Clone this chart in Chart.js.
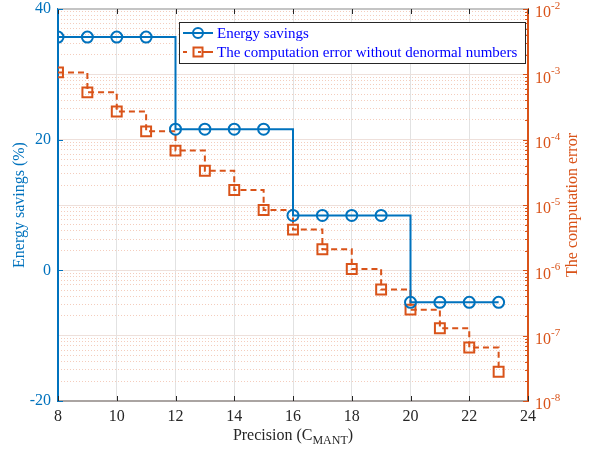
<!DOCTYPE html>
<html>
<head>
<meta charset="utf-8">
<script src="https://cdn.jsdelivr.net/npm/chart.js@4"></script>
<style>
  body { margin: 0; background: #fff; }
</style>
</head>
<body>
<canvas id="precisionChart" width="604" height="454"></canvas>
<script>
// precision values (C_MANT)
var precision = [8, 9, 10, 11, 12, 13, 14, 15, 16, 17, 18, 19, 20, 21, 22, 23];
// energy savings in %
var energySavings = [35.7, 35.7, 35.7, 35.7, 21.6, 21.6, 21.6, 21.6, 8.4, 8.4, 8.4, 8.4, -4.9, -4.9, -4.9, -4.9];
// computation error without denormal numbers
var computationError = [1.07e-3, 5.3e-4, 2.7e-4, 1.34e-4, 6.8e-5, 3.35e-5, 1.7e-5, 8.4e-6,
    4.2e-6, 2.1e-6, 1.05e-6, 5.1e-7, 2.5e-7, 1.3e-7, 6.6e-8, 2.8e-8];

var xTicks = [8, 10, 12, 14, 16, 18, 20, 22, 24];
var leftTicks = [-20, 0, 20, 40];
var rightExponents = [-8, -7, -6, -5, -4, -3, -2];

var seriesLabels = ['Energy savings', 'The computation error without denormal numbers'];

var BLUE = '#0072BD';
var ORANGE = '#D95319';
var SERIF = '"Liberation Serif", "Times New Roman", serif';

function logTicks() {
    var ticks = [];
    for (var i = 0; i < rightExponents.length; i++) {
        var e = rightExponents[i];
        ticks.push({ value: Math.pow(10, e), major: true });
        if (i < rightExponents.length - 1) {
            for (var m = 2; m <= 9; m++) {
                ticks.push({ value: m * Math.pow(10, e), major: false });
            }
        }
    }
    return ticks;
}

// tick marks pointing inwards, box top line, custom titles and legend
var decorPlugin = {
    id: 'decor',
    afterDraw: function (chart) {
        var c = chart.ctx;
        var a = chart.chartArea;
        var sx = chart.scales.x, sy = chart.scales.y, sy1 = chart.scales.y1;
        c.save();

        // top line of the box
        c.strokeStyle = '#c4c4c4';
        c.lineWidth = 2;
        c.beginPath();
        c.moveTo(a.left, a.top);
        c.lineTo(a.right, a.top);
        c.stroke();

        // x ticks (bottom and top)
        c.strokeStyle = '#262626';
        c.lineWidth = 1;
        xTicks.forEach(function (v) {
            var px = Math.round(sx.getPixelForValue(v)) + 0.5;
            c.beginPath();
            c.moveTo(px, a.bottom); c.lineTo(px, a.bottom - 5);
            c.moveTo(px, a.top); c.lineTo(px, a.top + 5);
            c.stroke();
        });

        // left ticks
        c.strokeStyle = BLUE;
        leftTicks.forEach(function (v) {
            var py = Math.round(sy.getPixelForValue(v)) + 0.5;
            c.beginPath();
            c.moveTo(a.left, py); c.lineTo(a.left + 5, py);
            c.stroke();
        });

        // right ticks, major and minor
        c.strokeStyle = ORANGE;
        logTicks().forEach(function (t) {
            var py = Math.round(sy1.getPixelForValue(t.value)) + 0.5;
            var len = t.major ? 5 : 3;
            c.beginPath();
            c.moveTo(a.right, py); c.lineTo(a.right - len, py);
            c.stroke();
        });

        // right tick labels 10^n
        c.fillStyle = ORANGE;
        c.textBaseline = 'middle';
        c.textAlign = 'left';
        rightExponents.forEach(function (e) {
            var py = sy1.getPixelForValue(Math.pow(10, e));
            c.font = '16px ' + SERIF;
            c.fillText('10', a.right + 7, py + 4);
            var w = c.measureText('10').width;
            c.font = '11px ' + SERIF;
            c.fillText(String(e), a.right + 7 + w, py - 3);
        });

        // left axis title
        c.font = '16px ' + SERIF;
        c.textAlign = 'center';
        c.fillStyle = BLUE;
        c.save();
        c.translate(20, (a.top + a.bottom) / 2);
        c.rotate(-Math.PI / 2);
        c.fillText('Energy savings (%)', 0, 0);
        c.restore();

        // right axis title
        c.fillStyle = ORANGE;
        c.save();
        c.translate(573, (a.top + a.bottom) / 2);
        c.rotate(-Math.PI / 2);
        c.fillText('The computation error', 0, 0);
        c.restore();

        // x axis title with subscript
        c.fillStyle = '#262626';
        c.textAlign = 'left';
        c.font = '16px ' + SERIF;
        var p1 = 'Precision (C', p3 = ')';
        var w1 = c.measureText(p1).width, w3 = c.measureText(p3).width;
        c.font = '12px ' + SERIF;
        var w2 = c.measureText('MANT').width;
        var x0 = (a.left + a.right) / 2 - (w1 + w2 + w3) / 2;
        var ty = 436;
        c.font = '16px ' + SERIF;
        c.fillText(p1, x0, ty);
        c.font = '12px ' + SERIF;
        c.fillText('MANT', x0 + w1, ty + 5);
        c.font = '16px ' + SERIF;
        c.fillText(p3, x0 + w1 + w2, ty);

        // legend
        var lx = 179, ly = 22, lw = 346, lh = 41;
        c.fillStyle = '#ffffff';
        c.fillRect(lx, ly, lw, lh);
        c.strokeStyle = '#262626';
        c.lineWidth = 1;
        c.strokeRect(lx + 0.5, ly + 0.5, lw, lh);

        var rows = [ly + 11, ly + 30];
        // row 1: blue line with circle
        c.strokeStyle = BLUE;
        c.lineWidth = 2;
        c.beginPath();
        c.moveTo(lx + 4, rows[0]); c.lineTo(lx + 34, rows[0]);
        c.stroke();
        c.beginPath();
        c.arc(lx + 19, rows[0], 5, 0, Math.PI * 2);
        c.stroke();
        // row 2: orange dashed line with square
        c.strokeStyle = ORANGE;
        c.beginPath();
        c.moveTo(lx + 4, rows[1]); c.lineTo(lx + 8, rows[1]);
        c.moveTo(lx + 24, rows[1]); c.lineTo(lx + 34, rows[1]);
        c.stroke();
        c.strokeRect(lx + 14.5, rows[1] - 4.5, 9, 9);
        c.beginPath();
        c.moveTo(lx + 19, rows[1]); c.lineTo(lx + 22, rows[1]);
        c.stroke();

        c.fillStyle = '#0000ff';
        c.font = '15px ' + SERIF;
        c.textBaseline = 'middle';
        c.fillText(seriesLabels[0], lx + 38, rows[0] + 1);
        c.fillText(seriesLabels[1], lx + 38, rows[1] + 1);

        c.restore();
    }
};

var ctx = document.getElementById('precisionChart').getContext('2d');

var precisionChart = new Chart(ctx, {
    type: 'line',
    data: {
        datasets: [
            {
                label: seriesLabels[0],
                data: precision.map(function (p, i) { return { x: p, y: energySavings[i] }; }),
                yAxisID: 'y',
                stepped: true,
                borderColor: BLUE,
                borderWidth: 2,
                pointStyle: 'circle',
                pointRadius: 5.5,
                pointBorderWidth: 2,
                pointBorderColor: BLUE,
                pointBackgroundColor: 'rgba(0,0,0,0)',
                fill: false
            },
            {
                label: seriesLabels[1],
                data: precision.map(function (p, i) { return { x: p, y: computationError[i] }; }),
                yAxisID: 'y1',
                stepped: true,
                borderColor: ORANGE,
                borderWidth: 2,
                borderDash: [6, 4],
                pointStyle: 'rect',
                pointRadius: 7,
                pointBorderWidth: 2,
                pointBorderColor: ORANGE,
                pointBackgroundColor: 'rgba(0,0,0,0)',
                fill: false
            }
        ]
    },
    options: {
        responsive: false,
        animation: false,
        layout: { padding: { top: 9, left: 0, right: 0, bottom: 0 } },
        plugins: {
            legend: { display: false },
            tooltip: { enabled: false }
        },
        scales: {
            x: {
                type: 'linear',
                min: 8,
                max: 24,
                afterBuildTicks: function (scale) {
                    scale.ticks = xTicks.map(function (v) { return { value: v }; });
                },
                afterFit: function (scale) {
                    scale.height = 53;
                    scale.paddingLeft = 0;
                    scale.paddingRight = 0;
                },
                ticks: {
                    color: '#262626',
                    padding: 6,
                    maxRotation: 0,
                    autoSkip: false,
                    font: { family: SERIF, size: 16 }
                },
                grid: { color: '#e2e2e2', lineWidth: 1, drawTicks: false },
                border: { color: '#aaa4a2', width: 2 }
            },
            y: {
                type: 'linear',
                position: 'left',
                min: -20,
                max: 40,
                afterBuildTicks: function (scale) {
                    scale.ticks = leftTicks.map(function (v) { return { value: v }; });
                },
                afterFit: function (scale) {
                    scale.width = 58;
                    scale.paddingTop = 0;
                    scale.paddingBottom = 0;
                },
                ticks: {
                    color: BLUE,
                    padding: 7,
                    font: { family: SERIF, size: 16 }
                },
                grid: { display: false, drawTicks: false },
                border: { color: BLUE, width: 2 }
            },
            y1: {
                type: 'logarithmic',
                position: 'right',
                min: 1e-8,
                max: 1e-2,
                afterBuildTicks: function (scale) {
                    scale.ticks = logTicks();
                },
                afterFit: function (scale) {
                    scale.width = 76;
                    scale.paddingTop = 0;
                    scale.paddingBottom = 0;
                },
                ticks: { display: false, autoSkip: false },
                grid: {
                    drawTicks: false,
                    lineWidth: 1,
                    color: function (c) {
                        return c.tick && c.tick.major ? '#eee0db' : '#f4cdbd';
                    }
                },
                border: {
                    color: ORANGE,
                    width: 2,
                    dash: function (c) {
                        return c.tick && c.tick.major ? [] : [1, 2];
                    }
                }
            }
        }
    },
    plugins: [decorPlugin]
});
</script>
</body>
</html>
